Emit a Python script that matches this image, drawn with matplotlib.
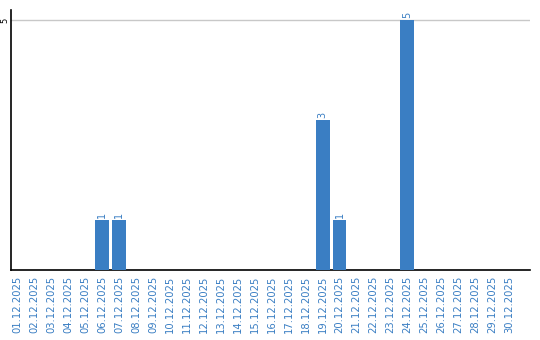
import matplotlib
matplotlib.use("Agg")
import matplotlib.pyplot as plt

dates = [f"{d:02d}.12.2025" for d in range(1, 31)]
values = [0, 0, 0, 0, 0, 1, 1, 0, 0, 0, 0, 0, 0, 0, 0, 0, 0, 0, 3, 1, 0, 0, 0, 5, 0, 0, 0, 0, 0, 0]
yticks = [5]

W, H = 540, 340
fig = plt.figure(figsize=(W / 100, H / 100), dpi=100)
ax = fig.add_axes([11 / W, (H - 270) / H, (530 - 11) / W, (270 - 10) / H])

color = "#3a7ec3"
x = list(range(len(dates)))
ax.bar(x, values, width=0.82, color=color, zorder=3)
for xi, v in zip(x, values):
    if v > 0:
        ax.text(xi, v + 0.04, str(v), rotation=90, ha="center", va="bottom",
                fontsize=7, color=color, zorder=4)

ax.set_xlim(-0.4, len(dates) - 0.4 + 0.65)
ax.set_ylim(0, 5.2)
ax.set_yticks(yticks)
ax.set_yticklabels([str(t) for t in yticks], rotation=90, va="center", fontsize=6)
ax.yaxis.grid(True, color="#c8c8c8", linewidth=1, zorder=0)
ax.set_xticks(x)
ax.set_xticklabels(dates, rotation=90, fontsize=7.2, color=color)
ax.tick_params(axis="both", length=0, pad=4)
ax.tick_params(axis="y", pad=1)
for s in ["top", "right"]:
    ax.spines[s].set_visible(False)
ax.spines["left"].set_linewidth(1.2)
ax.spines["bottom"].set_linewidth(1.2)

fig.savefig("out.png", dpi=100)
